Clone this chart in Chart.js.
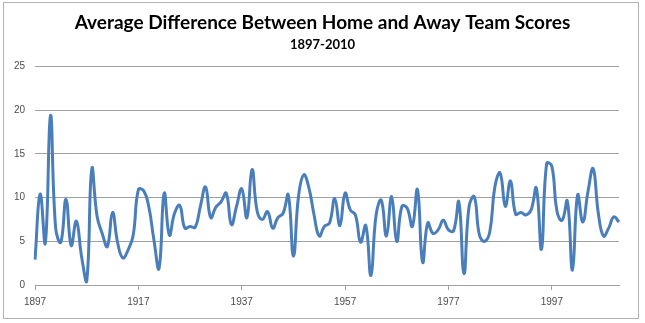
<!DOCTYPE html>
<html>
<head>
<meta charset="utf-8">
<title>Average Difference Between Home and Away Team Scores</title>
<script src="https://cdn.jsdelivr.net/npm/chart.js@4/dist/chart.umd.min.js"></script>
<style>
  html, body { margin: 0; padding: 0; background: #fff; }
  #wrap { position: relative; width: 645px; height: 323px; }
  #frame { position: absolute; left: 3px; top: 2px; width: 636px; height: 317px; border: 1px solid #b3b3b3; box-sizing: border-box; pointer-events: none; }
</style>
</head>
<body>
<div id="wrap">
  <canvas id="myChart" width="645" height="323"></canvas>
  <div id="frame"></div>
</div>
<script>
// one value per season, 1897 .. 2010
var firstYear = 1897;
var lastYear = 2010;

var years = [];
for (var y = firstYear; y <= lastYear; y++) years.push(String(y));

var avgDiff = [
  2.9, 10.4, 4.8, 19.4, 6.5, 4.9, 9.8, 4.5, 7.3, 3.3,      // 1897-1906
  0.4, 13.3, 7.9, 5.9, 4.4, 8.3, 4.8, 3.1, 4.0, 5.7,       // 1907-1916
  10.9, 10.8, 9.0, 5.2, 1.9, 10.5, 5.7, 8.2, 9.1, 6.5,     // 1917-1926
  6.7, 6.6, 9.0, 11.2, 7.7, 8.9, 9.5, 10.5, 6.9, 9.0,      // 1927-1936
  11.0, 7.7, 13.2, 8.4, 7.5, 8.4, 6.5, 7.7, 8.2, 10.3,     // 1937-1946
  3.3, 10.2, 12.6, 11.1, 8.0, 5.6, 6.7, 7.1, 9.9, 6.8,     // 1947-1956
  10.5, 8.6, 8.0, 4.9, 6.8, 1.1, 8.0, 9.7, 5.6, 10.1,      // 1957-1966
  5.0, 9.0, 8.8, 6.7, 10.9, 2.6, 7.1, 5.9, 6.3, 7.4,       // 1967-1976
  6.3, 6.2, 9.5, 1.3, 9.0, 10.1, 5.7, 5.0, 6.1, 11.3,      // 1977-1986
  12.8, 9.0, 11.9, 8.1, 8.3, 8.0, 8.6, 11.1, 4.1, 13.9,    // 1987-1996
  13.6, 8.4, 7.4, 9.6, 1.7, 10.3, 7.2, 10.7, 13.3, 8.2,    // 1997-2006
  5.6, 6.5, 7.8, 7.2                                       // 2007-2010
];

var yTicks = [0, 5, 10, 15, 20, 25];
var labelEvery = 20;

var gridGray = '#a0a0a0';
var textGray = '#4d4d4d';

var ctx = document.getElementById('myChart').getContext('2d');
var chart = new Chart(ctx, {
    type: 'line',
    data: {
        labels: years,
        datasets: [
            {
                label: 'Average difference',
                data: avgDiff,
                borderColor: '#4a7ebb',
                borderWidth: 3,
                pointRadius: 0,
                tension: 0.45,
                fill: false
            }
        ]
    },
    options: {
        responsive: false,
        animation: false,
        layout: {
            padding: 0
        },
        plugins: {
            legend: { display: false },
            tooltip: { enabled: false },
            title: {
                display: true,
                text: 'Average Difference Between Home and Away Team Scores',
                color: '#000',
                font: { family: 'Lato, "Open Sans", sans-serif', size: 19, weight: 'bold', lineHeight: 1.2 },
                padding: { top: 11, bottom: 3 }
            },
            subtitle: {
                display: true,
                text: firstYear + '-' + lastYear,
                color: '#000',
                font: { family: 'Lato, "Open Sans", sans-serif', size: 13, weight: 'bold', lineHeight: 1.2 },
                padding: { top: 0, bottom: 14 }
            }
        },
        scales: {
            x: {
                offset: false,
                afterFit: function (scale) { scale.height = 38; },
                border: { display: true, color: gridGray, width: 1 },
                grid: {
                    drawOnChartArea: false,
                    drawTicks: true,
                    tickLength: 5,
                    color: function (c) {
                        return c.index % labelEvery === 0 ? gridGray : 'rgba(0,0,0,0)';
                    }
                },
                ticks: {
                    autoSkip: false,
                    maxRotation: 0,
                    padding: 6,
                    color: textGray,
                    font: { family: '"Liberation Sans", Arial, sans-serif', size: 10 },
                    callback: function (val, idx) {
                        return idx % labelEvery === 0 ? years[idx] : '';
                    }
                }
            },
            y: {
                min: yTicks[0],
                max: yTicks[yTicks.length - 1],
                afterFit: function (scale) { scale.width = 35; },
                afterBuildTicks: function (scale) {
                    scale.ticks = yTicks.map(function (v) { return { value: v }; });
                },
                border: { display: false },
                grid: {
                    color: gridGray,
                    drawTicks: false
                },
                ticks: {
                    padding: 10,
                    color: textGray,
                    font: { family: '"Liberation Sans", Arial, sans-serif', size: 10 }
                }
            },
            // empty right-hand strip so the plot ends short of the frame
            yRight: {
                position: 'right',
                min: yTicks[0],
                max: yTicks[yTicks.length - 1],
                afterFit: function (scale) { scale.width = 26; },
                border: { display: false },
                grid: { display: false, drawTicks: false },
                ticks: { display: false }
            }
        }
    }
});
</script>
</body>
</html>
